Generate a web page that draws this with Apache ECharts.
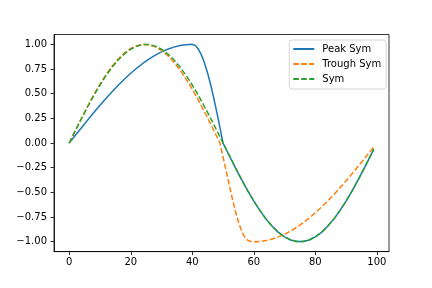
<!DOCTYPE html>
<html>
<head>
<meta charset="utf-8">
<script src="https://cdn.jsdelivr.net/npm/echarts@6/dist/echarts.min.js"></script>
<style>html,body{margin:0;padding:0;background:#fff}#c{width:432px;height:288px}</style>
</head>
<body>
<div id="c"></div>
<script>
const xs = [0,2,4,6,8,10,12,14,16,18,20,22,24,26,28,30,32,34,36,38,
  39,40,41,42,43,44,45,46,47,48,49,50,51,52,53,54,55,56,57,58,59,60,
  62,64,66,68,70,72,74,76,78,80,82,84,86,88,90,92,94,96,98,99];

const peakSym = [0,0.079,0.156,0.233,0.309,0.383,0.454,0.523,0.588,0.649,0.707,0.760,0.809,0.853,0.891,0.924,0.951,0.972,0.988,0.997,
  0.999,1.0,0.988,0.951,0.891,0.809,0.707,0.588,0.454,0.309,0.156,0,-0.063,-0.125,-0.187,-0.249,-0.309,-0.368,-0.426,-0.482,-0.536,-0.588,
  -0.685,-0.771,-0.844,-0.905,-0.951,-0.982,-0.998,-0.998,-0.982,-0.951,-0.905,-0.844,-0.771,-0.685,-0.588,-0.482,-0.368,-0.249,-0.125,-0.063];

const troughSym = [0,0.128,0.254,0.375,0.491,0.598,0.696,0.782,0.855,0.914,0.959,0.987,1.0,0.995,0.975,0.939,0.887,0.820,0.741,0.648,
  0.598,0.546,0.491,0.434,0.375,0.315,0.254,0.191,0.128,0.064,0,-0.14,-0.28,-0.42,-0.56,-0.69,-0.80,-0.89,-0.95,-0.985,-0.998,-1.0,
  -0.997,-0.988,-0.972,-0.951,-0.924,-0.891,-0.853,-0.809,-0.760,-0.707,-0.649,-0.588,-0.523,-0.454,-0.383,-0.309,-0.233,-0.156,-0.079,-0.039];

const sym = [0,0.125,0.249,0.368,0.482,0.588,0.685,0.771,0.844,0.905,0.951,0.982,0.998,0.998,0.982,0.951,0.905,0.844,0.771,0.685,
  0.637,0.588,0.536,0.482,0.426,0.368,0.309,0.249,0.187,0.125,0.063,0,-0.063,-0.125,-0.187,-0.249,-0.309,-0.368,-0.426,-0.482,-0.536,-0.588,
  -0.685,-0.771,-0.844,-0.905,-0.951,-0.982,-0.998,-0.998,-0.982,-0.951,-0.905,-0.844,-0.771,-0.685,-0.588,-0.482,-0.368,-0.249,-0.125,-0.063];

const xTicks = [0,20,40,60,80,100];
const yTicks = [-1,-0.75,-0.5,-0.25,0,0.25,0.5,0.75,1];
const names = ['Peak Sym','Trough Sym','Sym'];
const colors = ['#1f77b4','#ff7f0e','#2ca02c'];

const font = 'DejaVu Sans';
const chart = echarts.init(document.getElementById('c'), null, {renderer:'canvas'});
const pair = arr => xs.map((x,i)=>[x, arr[i]]);
const dash = [5.55, 2.4];
chart.setOption({
  animation:false,
  backgroundColor:'#fff',
  grid:{left:54, top:34.5, right:43, bottom:36.4, show:true, borderColor:'#000', borderWidth:0.8, backgroundColor:'transparent'},
  xAxis:{type:'value', min:-4.95, max:103.95,
    axisLine:{show:true, onZero:false, lineStyle:{color:'#000', width:0.8}},
    splitLine:{show:false},
    axisTick:{show:true, length:3.5, lineStyle:{color:'#000', width:0.8}, customValues:xTicks},
    axisLabel:{customValues:xTicks, margin:5.5, color:'#000', fontFamily:font, fontSize:10, formatter:v=>String(v)}
  },
  yAxis:{type:'value', min:-1.1, max:1.1,
    axisLine:{show:true, onZero:false, lineStyle:{color:'#000', width:0.8}},
    splitLine:{show:false},
    axisTick:{show:true, length:3.5, lineStyle:{color:'#000', width:0.8}, customValues:yTicks},
    axisLabel:{customValues:yTicks, margin:7, color:'#000', fontFamily:font, fontSize:10,
      formatter:v=>Number(v).toFixed(2).replace('-','\u2212')}
  },
  legend:{
    orient:'vertical', left:289.3, top:40,
    data:names,
    padding:[4,5,5,3], itemGap:5, itemWidth:21, itemHeight:10,
    itemStyle:{opacity:0, borderWidth:0},
    borderColor:'#cccccc', borderWidth:0.8, borderRadius:3, backgroundColor:'rgba(255,255,255,0.8)',
    textStyle:{fontFamily:font, fontSize:10, color:'#000', lineHeight:10, padding:[0,0,0,3]}
  },
  series:[
    {name:names[0], type:'line', data:pair(peakSym), symbol:'none', smooth:false,
      lineStyle:{color:colors[0], width:1.5}, itemStyle:{color:colors[0]}},
    {name:names[1], type:'line', data:pair(troughSym), symbol:'none', smooth:false,
      lineStyle:{color:colors[1], width:1.5, type:dash}, itemStyle:{color:colors[1]}},
    {name:names[2], type:'line', data:pair(sym), symbol:'none', smooth:false,
      lineStyle:{color:colors[2], width:1.5, type:dash}, itemStyle:{color:colors[2]}}
  ]
});
</script>
</body>
</html>
